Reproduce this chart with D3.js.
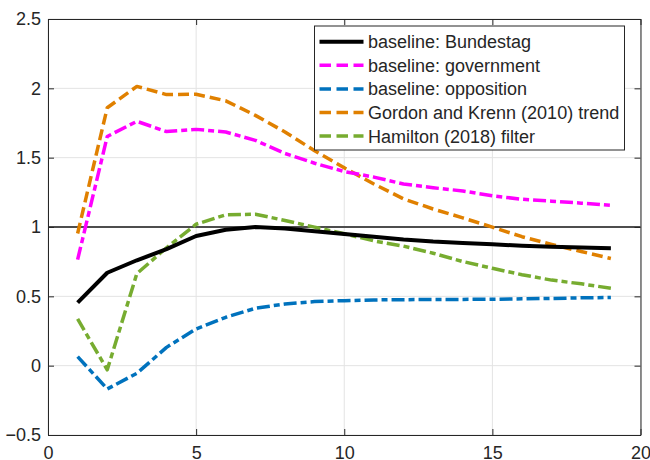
<!DOCTYPE html>
<html>
<head>
<meta charset="utf-8">
<script src="https://cdn.jsdelivr.net/npm/d3@7"></script>
<style>
  html, body { margin: 0; padding: 0; background: #fff; }
  svg { display: block; }
  text { font-family: "Liberation Sans", Arial, Helvetica, sans-serif; fill: #262626; }
</style>
</head>
<body>
<svg id="chart" width="650" height="460"></svg>
<script>
// Horizon (periods) shared by every series
const horizon = [1,2,3,4,5,6,7,8,9,10,11,12,13,14,15,16,17,18,19];

const bundestag  = [0.455,0.67,0.76,0.84,0.935,0.98,1.0,0.99,0.97,0.95,0.93,0.91,0.895,0.885,0.875,0.865,0.858,0.852,0.847];
const government = [0.765,1.653,1.762,1.688,1.704,1.685,1.625,1.53,1.46,1.40,1.36,1.31,1.283,1.26,1.225,1.20,1.186,1.172,1.157];
const opposition = [0.065,-0.168,-0.055,0.132,0.265,0.349,0.414,0.445,0.462,0.469,0.474,0.476,0.477,0.478,0.479,0.482,0.485,0.489,0.492];
const gordonKrenn = [0.953,1.86,2.014,1.955,1.957,1.91,1.805,1.685,1.55,1.427,1.31,1.203,1.13,1.066,0.999,0.93,0.874,0.823,0.773];
const hamilton   = [0.337,-0.03,0.664,0.85,1.02,1.088,1.092,1.047,0.999,0.951,0.90,0.862,0.811,0.751,0.702,0.656,0.617,0.59,0.558];

const seriesNames = [
  "baseline: Bundestag",
  "baseline: government",
  "baseline: opposition",
  "Gordon and Krenn (2010) trend",
  "Hamilton (2018) filter"
];

const xTicks = [0, 5, 10, 15, 20];
const yTicks = [-0.5, 0, 0.5, 1, 1.5, 2, 2.5];

const series = [
  { name: seriesNames[0], values: bundestag,   color: "#000000", dash: null },
  { name: seriesNames[1], values: government,  color: "#ff00ff", dash: "13,4,6,4" },
  { name: seriesNames[2], values: opposition,  color: "#0072bd", dash: "13,4,6,4" },
  { name: seriesNames[3], values: gordonKrenn, color: "#e08000", dash: "11,5" },
  { name: seriesNames[4], values: hamilton,    color: "#77ac30", dash: "13,4,6,4" }
];

const svg = d3.select("#chart");
const plotLeft = 48, plotRight = 640.5, plotTop = 19, plotBottom = 435;

const x = d3.scaleLinear().domain([0, 20]).range([plotLeft, plotRight]);
const y = d3.scaleLinear().domain([-0.5, 2.5]).range([plotBottom, plotTop]);

// grid
const grid = svg.append("g");
grid.selectAll("line.gx").data(xTicks).join("line")
  .attr("x1", d => x(d)).attr("x2", d => x(d))
  .attr("y1", plotTop).attr("y2", plotBottom)
  .attr("stroke", "#e3e3e3").attr("stroke-width", 1);
grid.selectAll("line.gy").data(yTicks).join("line")
  .attr("x1", plotLeft).attr("x2", plotRight)
  .attr("y1", d => y(d)).attr("y2", d => y(d))
  .attr("stroke", "#e3e3e3").attr("stroke-width", 1);

// reference line at 1
svg.append("line")
  .attr("x1", plotLeft).attr("x2", plotRight)
  .attr("y1", y(1)).attr("y2", y(1))
  .attr("stroke", "#4d4d4d").attr("stroke-width", 1.8);

// series
const line = d3.line().x((d, i) => x(horizon[i])).y(d => y(d));
svg.append("g").selectAll("path").data(series.slice().reverse()).join("path")
  .attr("d", d => line(d.values))
  .attr("fill", "none")
  .attr("stroke", d => d.color)
  .attr("stroke-width", d => d.dash ? 3.5 : 4)
  .attr("stroke-dasharray", d => d.dash)
  .attr("stroke-linejoin", "round");

// axes (box with inward ticks on all sides)
const tickLen = 6;
const axisColor = "#262626";
svg.append("g").attr("transform", `translate(0,${plotBottom})`)
  .call(d3.axisBottom(x).tickValues(xTicks).tickSizeInner(-tickLen).tickSizeOuter(0).tickFormat(d3.format("d")))
  .call(g => {
    g.select(".domain").attr("stroke", axisColor);
    g.selectAll(".tick line").attr("stroke", axisColor);
    g.selectAll("text").attr("font-size", 18).attr("fill", axisColor)
      .attr("font-family", '"Liberation Sans", Arial, sans-serif')
      .attr("dy", null).attr("y", 23.5);
  });
svg.append("g").attr("transform", `translate(0,${plotTop})`)
  .call(d3.axisTop(x).tickValues(xTicks).tickSizeInner(-tickLen).tickSizeOuter(0).tickFormat(""))
  .call(g => { g.select(".domain").attr("stroke", axisColor); g.selectAll(".tick line").attr("stroke", axisColor); });
svg.append("g").attr("transform", `translate(${plotLeft},0)`)
  .call(d3.axisLeft(y).tickValues(yTicks).tickSizeInner(-tickLen).tickSizeOuter(0).tickFormat(d => d3.format("")(d)))
  .call(g => {
    g.select(".domain").attr("stroke", axisColor);
    g.selectAll(".tick line").attr("stroke", axisColor);
    g.selectAll("text").attr("font-size", 18).attr("fill", axisColor)
      .attr("font-family", '"Liberation Sans", Arial, sans-serif')
      .attr("x", -7);
  });
svg.append("g").attr("transform", `translate(${plotRight},0)`)
  .call(d3.axisRight(y).tickValues(yTicks).tickSizeInner(-tickLen).tickSizeOuter(0).tickFormat(""))
  .call(g => { g.select(".domain").attr("stroke", axisColor); g.selectAll(".tick line").attr("stroke", axisColor); });

// legend
const lg = svg.append("g");
lg.append("rect")
  .attr("x", 314.5).attr("y", 26).attr("width", 310).attr("height", 124)
  .attr("fill", "#fff").attr("stroke", axisColor).attr("stroke-width", 1);
const rows = lg.selectAll("g.row").data(series).join("g")
  .attr("transform", (d, i) => `translate(0,${41.7 + i * 23.6})`);
rows.append("line")
  .attr("x1", 319.5).attr("x2", 363.5).attr("y1", 0).attr("y2", 0)
  .attr("stroke", d => d.color)
  .attr("stroke-width", d => d.dash ? 3.5 : 4)
  .attr("stroke-dasharray", d => d.dash ? "11.5,5.5" : null);
rows.append("text")
  .attr("x", 368).attr("y", 6.5)
  .attr("font-size", 18).attr("fill", "#000")
  .text(d => d.name);
</script>
</body>
</html>
